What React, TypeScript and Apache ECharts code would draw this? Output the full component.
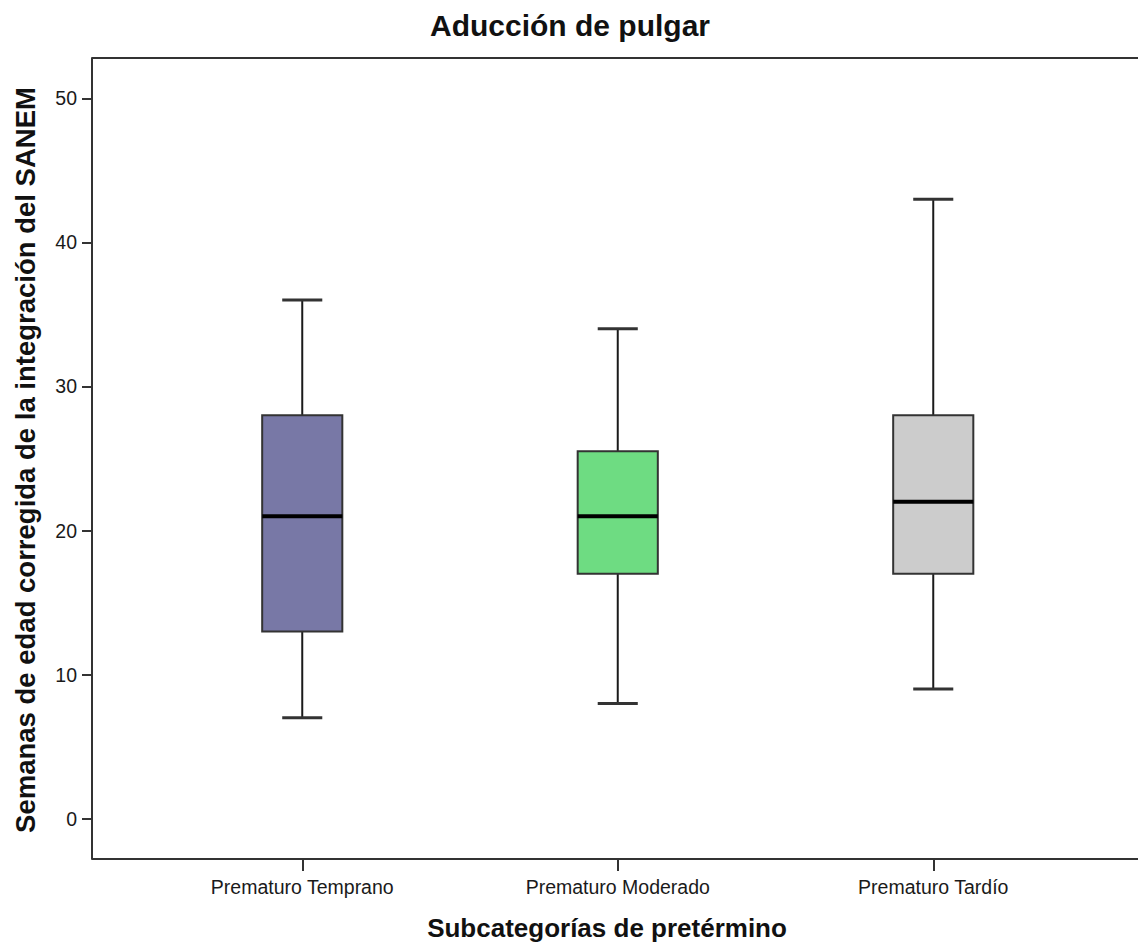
import React, { useEffect, useRef } from "react";
import * as echarts from "echarts";

const categories = ["Prematuro Temprano", "Prematuro Moderado", "Prematuro Tardío"];
const whiskerLow = [7, 8, 9];
const q1 = [13, 17, 17];
const median = [21, 21, 22];
const q3 = [28, 25.5, 28];
const whiskerHigh = [36, 34, 43];
const boxColors = ["#7878A6", "#6EDC82", "#CCCCCC"];
const yTicks = [0, 10, 20, 30, 40, 50];

const chartTitle = "Aducción de pulgar";
const xTitle = "Subcategorías de pretérmino";
const yTitle = "Semanas de edad corregida de la integración del SANEM";

const FONT = "'Liberation Sans', Arial, Helvetica, sans-serif";

export default function App() {
  const ref = useRef<HTMLDivElement>(null);
  useEffect(() => {
    document.body.style.margin = "0";
    if (!ref.current) return;
    const chart = echarts.init(ref.current, null, { renderer: "svg" });
    const data = categories.map((_, i) => [i, whiskerLow[i], q1[i], median[i], q3[i], whiskerHigh[i]]);
    chart.setOption({
      animation: false,
      backgroundColor: "#ffffff",
      grid: { left: 144.5, right: 47, top: 58, bottom: 84 },
      xAxis: {
        type: "category",
        data: categories,
        boundaryGap: true,
        axisLine: { show: false, onZero: false },
        axisTick: { show: true, alignWithLabel: true, length: 12, lineStyle: { color: "#333", width: 2 } },
        axisLabel: { fontSize: 19.5, color: "#1a1a1a", margin: 18, fontFamily: FONT },
        splitLine: { show: false },
      },
      yAxis: {
        type: "value",
        min: -2.8,
        max: 52.8,
        offset: 52.5,
        axisLine: { show: true, onZero: false, lineStyle: { color: "#333", width: 2 } },
        axisTick: { show: true, length: 10, customValues: yTicks, lineStyle: { color: "#333", width: 2 } },
        axisLabel: { fontSize: 19.5, color: "#1a1a1a", margin: 15, fontFamily: FONT, customValues: yTicks },
        splitLine: { show: false },
      },
      graphic: [
        { type: "line", shape: { x1: 92, y1: 58, x2: 1138, y2: 58 }, style: { stroke: "#333", lineWidth: 2 } },
        { type: "line", shape: { x1: 92, y1: 859, x2: 1138, y2: 859 }, style: { stroke: "#333", lineWidth: 2 } },
        {
          type: "text", x: 570, y: 25,
          style: { text: chartTitle, font: `bold 30px ${FONT}`, fill: "#111", align: "center", verticalAlign: "middle" },
        },
        {
          type: "text", x: 607, y: 928,
          style: { text: xTitle, font: `bold 26px ${FONT}`, fill: "#111", align: "center", verticalAlign: "middle" },
        },
        {
          type: "text", x: 25, y: 460, rotation: Math.PI / 2,
          style: { text: yTitle, font: `bold 27.5px ${FONT}`, fill: "#111", align: "center", verticalAlign: "middle" },
        },
      ],
      series: [
        {
          type: "custom",
          data,
          encode: { x: 0, y: [1, 2, 3, 4, 5] },
          renderItem: (params: any, api: any) => {
            const idx = api.value(0);
            const cx = api.coord([idx, 0])[0];
            const band = api.size([1, 0])[0];
            const boxW = band * 0.254;
            const capW = band * 0.127;
            const y = (v: number) => api.coord([idx, v])[1];
            const yLow = y(api.value(1));
            const yQ1 = y(api.value(2));
            const yMed = y(api.value(3));
            const yQ3 = y(api.value(4));
            const yHigh = y(api.value(5));
            const lineStyle = { stroke: "#1a1a1a", lineWidth: 2 };
            return {
              type: "group",
              children: [
                { type: "line", shape: { x1: cx, y1: yHigh, x2: cx, y2: yQ3 }, style: lineStyle },
                { type: "line", shape: { x1: cx, y1: yQ1, x2: cx, y2: yLow }, style: lineStyle },
                { type: "line", shape: { x1: cx - capW / 2, y1: yHigh, x2: cx + capW / 2, y2: yHigh }, style: { stroke: "#333", lineWidth: 3 } },
                { type: "line", shape: { x1: cx - capW / 2, y1: yLow, x2: cx + capW / 2, y2: yLow }, style: { stroke: "#333", lineWidth: 3 } },
                {
                  type: "rect",
                  shape: { x: cx - boxW / 2, y: yQ3, width: boxW, height: yQ1 - yQ3 },
                  style: { fill: boxColors[params.dataIndex], stroke: "#333", lineWidth: 2 },
                },
                { type: "line", shape: { x1: cx - boxW / 2, y1: yMed, x2: cx + boxW / 2, y2: yMed }, style: { stroke: "#000", lineWidth: 4 } },
              ],
            };
          },
        },
      ],
    });
    return () => chart.dispose();
  }, []);
  return <div ref={ref} style={{ width: 1138, height: 943 }} />;
}
